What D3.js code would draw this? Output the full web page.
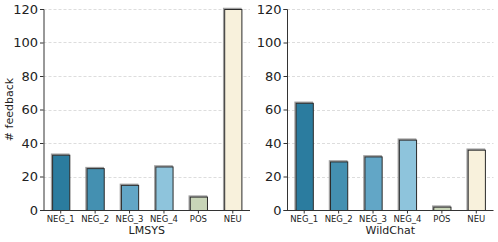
<!DOCTYPE html>
<html lang="en">
<head>
<meta charset="UTF-8">
<title>Feedback counts</title>
<script src="https://d3js.org/d3.v7.min.js"></script>
<style>
  body { margin: 0; background: #fff; font-family: "DejaVu Sans", sans-serif; }
</style>
</head>
<body>
<svg id="chart" width="498" height="242"></svg>
<script>
const categories = ["NEG_1", "NEG_2", "NEG_3", "NEG_4", "POS", "NEU"];
const lmsysValues = [33, 25, 15, 26, 8, 120];
const wildchatValues = [64, 29, 32, 42, 2, 36];
const barColors = ["#2b7c9f", "#4490b1", "#62a6c6", "#8ec4dc", "#c8d5b8", "#f8f1dc"];
const yTicks = [0, 20, 40, 60, 80, 100, 120];

const svg = d3.select("#chart");
const plotTop = 9, plotBottom = 210;

const y = d3.scaleLinear().domain([0, 120]).range([plotBottom, plotTop]);

function panel(x0, x1, values, title) {
  const g = svg.append("g");
  const x = d3.scaleBand().domain(categories).range([x0, x1]).paddingInner(0.5).paddingOuter(0.25);

  // grid
  g.selectAll(".grid").data(yTicks.slice(1)).enter().append("line")
    .attr("x1", x0).attr("x2", x1)
    .attr("y1", d => Math.round(y(d)) + 0.5).attr("y2", d => Math.round(y(d)) + 0.5)
    .attr("stroke", "#d4d4d4").attr("stroke-width", 0.8).attr("stroke-dasharray", "3,2");

  // shadow
  g.selectAll(".shadow").data(values).enter().append("rect")
    .attr("x", (d, i) => x(categories[i]) - 0.5)
    .attr("y", d => y(d) - 0.5)
    .attr("width", x.bandwidth())
    .attr("height", d => plotBottom - y(d))
    .attr("fill", "none").attr("stroke", "#a0a0a0").attr("stroke-width", 1.5);

  g.selectAll(".bar").data(values).enter().append("rect")
    .attr("x", (d, i) => x(categories[i]) + 0.5)
    .attr("y", d => y(d) + 0.5)
    .attr("width", x.bandwidth())
    .attr("height", d => plotBottom - y(d))
    .attr("fill", (d, i) => barColors[i])
    .attr("stroke", "#2b2b2b").attr("stroke-width", 1);

  const yAxis = g.append("g").attr("transform", `translate(${x0},0)`)
    .call(d3.axisLeft(y).tickValues(yTicks).tickSize(3.5).tickPadding(2));
  yAxis.selectAll("text").attr("font-size", 13).attr("fill", "#222").attr("font-family", "DejaVu Sans");

  const xAxis = g.append("g").attr("transform", `translate(0,${plotBottom})`)
    .call(d3.axisBottom(x).tickSize(3.5).tickPadding(2));
  xAxis.selectAll("text").attr("font-size", 8.5).attr("fill", "#222").attr("font-family", "DejaVu Sans");
  xAxis.select(".domain").attr("d", `M${x0},0.5H${x1}`);

  g.selectAll(".domain, .tick line").attr("stroke", "#333").attr("stroke-width", 1);

  g.append("text").attr("x", (x0 + x1) / 2).attr("y", 234)
    .attr("text-anchor", "middle").attr("font-size", 11).attr("fill", "#222").text(title);
}

panel(43.5, 250, lmsysValues, "LMSYS");
panel(287, 493.5, wildchatValues, "WildChat");

svg.append("text").attr("transform", `translate(13,${(plotTop + plotBottom) / 2}) rotate(-90)`)
  .attr("text-anchor", "middle").attr("font-size", 11).attr("fill", "#222").text("# feedback");
</script>
</body>
</html>
